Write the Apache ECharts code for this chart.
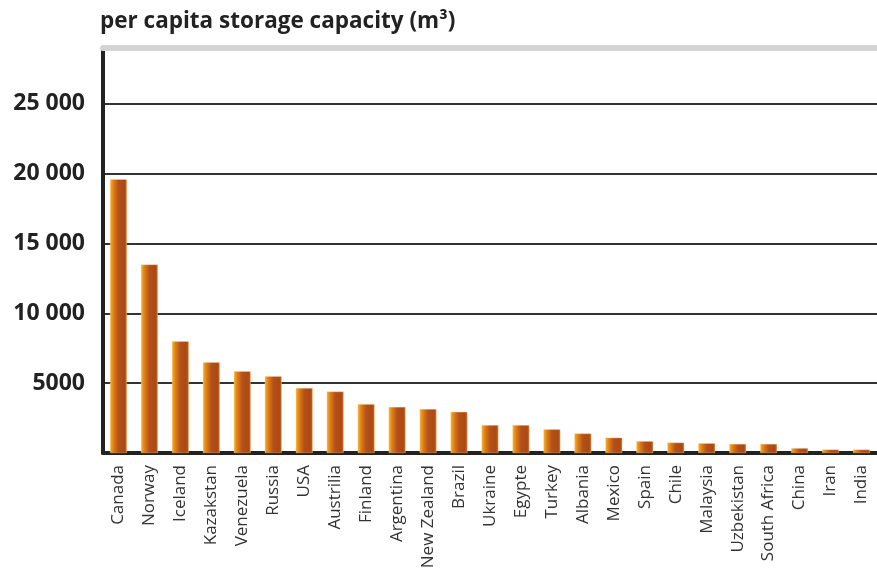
<!DOCTYPE html>
<html>
<head>
<meta charset="utf-8">
<script src="https://cdn.jsdelivr.net/npm/echarts@6/dist/echarts.min.js"></script>
<style>
  html, body { margin: 0; padding: 0; background: #fff; }
  #chart { width: 877px; height: 574px; }
</style>
</head>
<body>
<div id="chart"></div>
<script>
var countries = ['Canada', 'Norway', 'Iceland', 'Kazakstan', 'Venezuela', 'Russia', 'USA', 'Austrilia',
    'Finland', 'Argentina', 'New Zealand', 'Brazil', 'Ukraine', 'Egypte', 'Turkey', 'Albania',
    'Mexico', 'Spain', 'Chile', 'Malaysia', 'Uzbekistan', 'South Africa', 'China', 'Iran', 'India'];
var capacity = [19600, 13500, 8000, 6500, 5850, 5500, 4650, 4400,
    3500, 3300, 3150, 2950, 2000, 2000, 1700, 1400,
    1100, 850, 750, 700, 650, 650, 350, 250, 250];
var yTicks = [0, 5000, 10000, 15000, 20000, 25000];

var myChart = echarts.init(document.getElementById('chart'));

// orange bars, bright on the left edge, dark brown body
var barColor = new echarts.graphic.LinearGradient(0, 0, 1, 0, [
    { offset: 0, color: '#f7b425' },
    { offset: 0.22, color: '#dd7c18' },
    { offset: 0.5, color: '#b4501a' },
    { offset: 0.85, color: '#ab4914' },
    { offset: 1, color: '#c86a20' }
]);

var option = {
    animation: false,
    title: {
        text: 'per capita storage capacity (m\u00b3)',
        left: 95,
        top: 5,
        textStyle: { fontFamily: 'Open Sans', fontWeight: 'bold', fontSize: 22.5, color: '#222' }
    },
    grid: { left: 103, right: 0, top: 48, bottom: 121 },
    xAxis: [{
        type: 'category',
        data: countries,
        axisLine: { lineStyle: { color: '#222', width: 4 } },
        axisTick: { show: false },
        axisLabel: {
            rotate: 90,
            margin: 12,
            interval: 0,
            fontFamily: 'Open Sans',
            fontSize: 17,
            color: '#333'
        }
    }, {
        type: 'category',
        position: 'top',
        data: countries,
        axisLine: { lineStyle: { color: '#d4d4d4', width: 6 } },
        axisTick: { show: false },
        axisLabel: { show: false }
    }],
    yAxis: {
        type: 'value',
        min: 0,
        max: 29000,
        interval: 5000,
        axisLine: { show: true, lineStyle: { color: '#222', width: 4 } },
        axisTick: { show: false },
        splitLine: { show: true, showMaxLine: false, showMinLine: false, lineStyle: { color: '#333', width: 2 } },
        axisLabel: {
            margin: 18,
            fontFamily: 'Open Sans',
            fontWeight: 'bold',
            fontSize: 23,
            color: '#222',
            formatter: function (v) {
                if (yTicks.indexOf(v) < 1) return '';
                return v >= 10000 ? String(v).replace(/(\d+)(\d{3})$/, '$1 $2') : String(v);
            }
        }
    },
    series: [{
        type: 'bar',
        data: capacity,
        barWidth: 17,
        itemStyle: { color: barColor, borderColor: 'rgba(255,210,150,0.7)', borderWidth: 0.5 }
    }]
};

myChart.setOption(option);
</script>
</body>
</html>
